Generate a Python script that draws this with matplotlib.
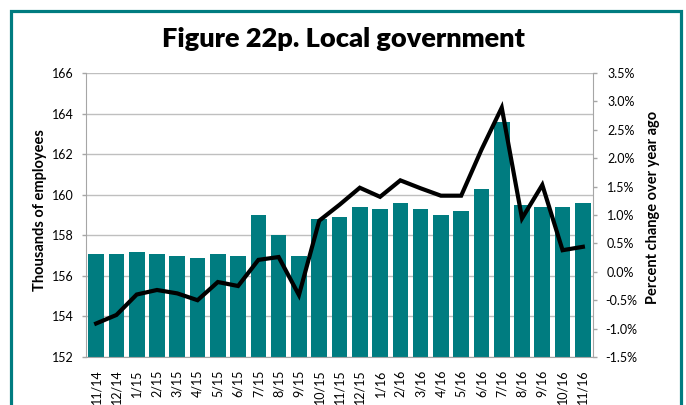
import numpy as np
import matplotlib.pyplot as plt
from matplotlib.patches import Rectangle

plt.rcParams['font.family'] = ['Lato', 'DejaVu Sans']

# bulan (label sumbu x)
months = ['11/14', '12/14', '1/15', '2/15', '3/15', '4/15', '5/15', '6/15',
          '7/15', '8/15', '9/15', '10/15', '11/15', '12/15', '1/16', '2/16',
          '3/16', '4/16', '5/16', '6/16', '7/16', '8/16', '9/16', '10/16', '11/16']

# jumlah pegawai (ribuan)
employees = [157.1, 157.1, 157.2, 157.1, 157.0, 156.9, 157.1, 157.0, 159.0,
             158.0, 157.0, 158.8, 158.9, 159.4, 159.3, 159.6, 159.3, 159.0,
             159.2, 160.3, 163.6, 159.5, 159.4, 159.4, 159.6]

# perubahan persen dibanding tahun lalu
pct_change = [-0.91, -0.76, -0.40, -0.32, -0.38, -0.50, -0.18, -0.25, 0.21,
              0.26, -0.41, 0.90, 1.18, 1.48, 1.32, 1.61, 1.47, 1.34, 1.34,
              2.15, 2.89, 0.94, 1.53, 0.38, 0.44]

teal = '#007C80'
grey = '#A6A6A6'
W, H = 686, 405

fig = plt.figure(figsize=(6.86, 4.05), dpi=100)
ax = fig.add_axes([86 / W, 1 - 357 / H, 507 / W, 284 / H])
x = np.arange(len(months))

ax.bar(x, employees, width=0.77, color=teal, zorder=2)
ax.set_ylim(152, 166)
ax.set_yticks(np.arange(152, 167, 2))
ax.set_xlim(-0.5, len(months) - 0.5)
ax.set_xticks(x)
ax.set_xticklabels(months, rotation=90, fontsize=9)
ax.grid(axis='y', color='#BFBFBF', linewidth=1, zorder=0)
ax.set_axisbelow(True)
ax.tick_params(axis='x', length=0, pad=9)
ax.tick_params(axis='y', labelsize=9, length=3, color=grey, width=1, pad=6)
for s in ['top', 'right']:
    ax.spines[s].set_visible(False)
for s in ['left', 'bottom']:
    ax.spines[s].set_color(grey)

ax2 = ax.twinx()
ax2.plot(x, pct_change, color='black', linewidth=3, zorder=3, solid_joinstyle='miter')
ax2.set_ylim(-1.5, 3.5)
ax2.set_yticks(np.arange(-1.5, 3.6, 0.5))
ax2.set_yticklabels([f'{v:.1f}%' for v in np.arange(-1.5, 3.6, 0.5)], ha='center')
ax2.tick_params(axis='y', labelsize=9, length=3, color=grey, width=1, pad=17)
for s in ['top', 'left', 'bottom']:
    ax2.spines[s].set_visible(False)
ax2.spines['right'].set_color(grey)

# judul sumbu
fig.text(40 / W, 1 - 210 / H, 'Thousands of employees', rotation=90,
         ha='center', va='center', fontsize=10.5, fontweight='bold')
fig.text(653 / W, 1 - 207 / H, 'Percent change over year ago', rotation=90,
         ha='center', va='center', fontsize=10.5, fontweight='bold')

fig.text(0.5, 1 - 39 / H, 'Figure 22p. Local government', ha='center', va='center',
         fontsize=19.5, fontweight='heavy')

# bingkai hijau kebiruan
fig.patches.append(Rectangle((10.5 / W, -0.05), 670 / W, 1.05 - 11.5 / H,
                             transform=fig.transFigure, fill=False,
                             edgecolor=teal, linewidth=2.3, clip_on=False))

plt.savefig('out.png', dpi=100)
